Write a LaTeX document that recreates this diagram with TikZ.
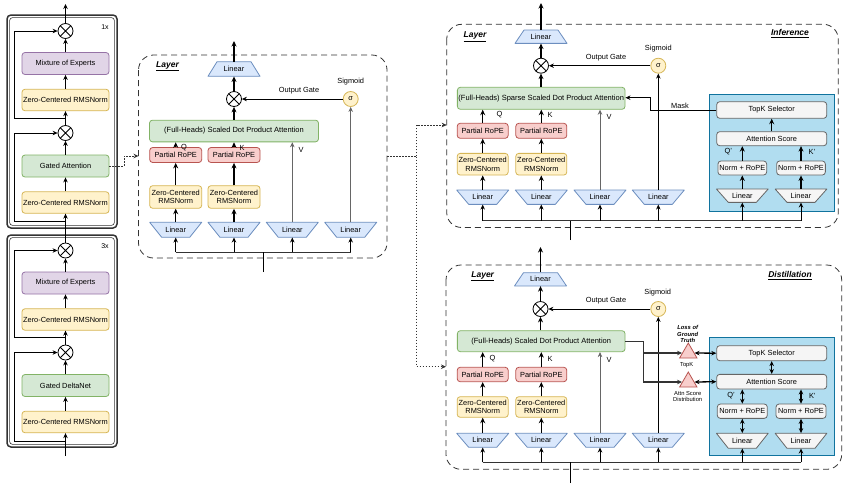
\documentclass[tikz,border=0pt]{standalone}
\usepackage{fontspec}
\setmainfont{Liberation Sans}
\usetikzlibrary{arrows.meta,shapes.geometric,calc}
\definecolor{yfill}{HTML}{FFF2CC}\definecolor{ydraw}{HTML}{D6B656}
\definecolor{gfill}{HTML}{D5E8D4}\definecolor{gdraw}{HTML}{82B366}
\definecolor{rfill}{HTML}{F8CECC}\definecolor{rdraw}{HTML}{B85450}
\definecolor{pfill}{HTML}{E1D5E7}\definecolor{pdraw}{HTML}{9673A6}
\definecolor{bfill}{HTML}{DAE8FC}\definecolor{bdraw}{HTML}{6C8EBF}
\definecolor{qfill}{HTML}{F5F5F5}\definecolor{qdraw}{HTML}{666666}
\definecolor{cfill}{HTML}{B1DDF0}\definecolor{cdraw}{HTML}{10739E}
\definecolor{dk}{HTML}{333333}
\definecolor{gl}{HTML}{666666}
\newcommand{\trapnode}[7]{%
  \draw[#7, shift={(#2,#3)}] (-#4/2,-#6/2) -- (#4/2,-#6/2) -- (#5/2,#6/2) -- (-#5/2,#6/2) -- cycle;
  \node[txt, minimum width=#4pt, minimum height=#6pt, inner sep=0pt] (#1) at (#2,#3) {Linear};
}
\tikzset{
 txt/.style={font=\fontsize{7.4}{8.6}\selectfont, align=center, text=black},
 box/.style={txt, draw, rounded corners=3pt, line width=0.8pt, inner sep=0pt},
 ybox/.style={box, fill=yfill, draw=ydraw},
 gbox/.style={box, fill=gfill, draw=gdraw},
 sdpa/.style={gbox, font=\fontsize{7.5}{9}\selectfont},
 rbox/.style={box, fill=rfill, draw=rdraw},
 pbox/.style={box, fill=pfill, draw=pdraw},
 qbox/.style={box, fill=qfill, draw=qdraw},
 lincol/.style={fill=bfill, draw=bdraw, line width=0.8pt, line join=round},
 lingray/.style={fill=qfill, draw=qdraw, line width=0.8pt, line join=round},
 otimes/.style={circle, draw, line width=0.8pt, minimum size=15pt, inner sep=0pt, fill=white,
   path picture={\draw[line width=0.8pt] (path picture bounding box.north west) -- (path picture bounding box.south east) (path picture bounding box.south west) -- (path picture bounding box.north east);}},
 sigm/.style={txt, circle, draw=ydraw, fill=yfill, line width=0.8pt, minimum size=15pt, inner sep=0pt},
 panel/.style={draw=dk, line width=0.8pt, dash pattern=on 6pt off 4pt, rounded corners=15pt},
 blko/.style={draw=dk, line width=1.5pt, rounded corners=4pt},
 blki/.style={draw=dk, line width=0.6pt, rounded corners=3pt},
 arr/.style={-{Stealth[length=5pt,width=4.5pt]}, line width=0.8pt},
 tarr/.style={-{Stealth[length=5.5pt,width=5pt]}, line width=1.4pt},
 darr/.style={{Stealth[length=5pt,width=4.5pt]}-{Stealth[length=5pt,width=4.5pt]}, line width=1.3pt},
 garr/.style={arr, draw=gl},
 bus/.style={line width=0.8pt, draw=dk},
 tbus/.style={line width=1.3pt},
 dotarr/.style={-{Stealth[length=5pt,width=4.5pt]}, line width=1pt, draw=dk, dash pattern=on 1.5pt off 1.5pt},
 ttl/.style={font=\fontsize{8.5}{10}\selectfont\bfseries\itshape},
 lbl/.style={txt},
 small/.style={font=\fontsize{5.8}{6.8}\selectfont, align=center},
 smallb/.style={font=\fontsize{5.8}{6.8}\selectfont\bfseries\itshape, align=center},
 tri/.style={regular polygon, regular polygon sides=3, minimum size=20pt, inner sep=0pt, fill=rfill, draw=rdraw, line width=0.8pt},
}
\begin{document}
\begin{tikzpicture}[x=1pt,y=-1pt]
\fill[white] (0,0) rectangle (848,491);
\useasboundingbox (0,0) rectangle (848,491);

% ================= left column =================
\draw[blko] (7,15) rectangle (117,228);
\draw[blki] (9.6,17.6) rectangle (114.4,225.4);
\draw[blko] (7,235) rectangle (117,447);
\draw[blki] (9.6,237.6) rectangle (114.4,444.4);
\node[txt, font=\fontsize{7}{8}\selectfont] (one) at (105,27) {1x};
\node[txt, font=\fontsize{7}{8}\selectfont] (three) at (105,246) {3x};

\node[otimes] (x1a) at (65.5,31) {};
\node[pbox, minimum width=87pt, minimum height=22pt] (moe1) at (65.5,63.5) {Mixture of Experts};
\node[ybox, minimum width=87pt, minimum height=21.5pt] (nA1) at (65.5,100) {Zero-Centered RMSNorm};
\node[otimes] (x1b) at (65.5,133) {};
\node[gbox, minimum width=87pt, minimum height=22pt] (ga) at (65.5,166) {Gated Attention};
\node[ybox, minimum width=87pt, minimum height=21.5pt] (nB1) at (65.5,202.5) {Zero-Centered RMSNorm};

\node[otimes] (x2a) at (65.5,250.5) {};
\node[pbox, minimum width=87pt, minimum height=22pt] (moe2) at (65.5,283) {Mixture of Experts};
\node[ybox, minimum width=87pt, minimum height=21.5pt] (nA2) at (65.5,319.5) {Zero-Centered RMSNorm};
\node[otimes] (x2b) at (65.5,352.5) {};
\node[gbox, minimum width=87pt, minimum height=22pt] (gdn) at (65.5,385.5) {Gated DeltaNet};
\node[ybox, minimum width=87pt, minimum height=21.5pt] (nB2) at (65.5,422) {Zero-Centered RMSNorm};

\coordinate (topL) at (65.5,4);
\coordinate (botL) at (65.5,456);
\coordinate (r1) at (65.5,118);
\coordinate (r2) at (65.5,221);
\coordinate (r3) at (65.5,337.5);
\coordinate (r4) at (65.5,441);
\coordinate (rl) at (14,0);

\draw[arr] (x1a.north) -- (topL);
\draw[arr] (moe1.north) -- (x1a.south);
\draw[arr] (nA1.north) -- (moe1.south);
\draw[arr] (x1b.north) -- (nA1.south);
\draw[arr] (ga.north) -- (x1b.south);
\draw[arr] (nB1.north) -- (ga.south);
\draw[arr] (x2a.north) -- (nB1.south);
\draw[arr] (moe2.north) -- (x2a.south);
\draw[arr] (nA2.north) -- (moe2.south);
\draw[arr] (x2b.north) -- (nA2.south);
\draw[arr] (gdn.north) -- (x2b.south);
\draw[arr] (nB2.north) -- (gdn.south);
\draw[arr] (botL) -- (nB2.south);
\draw[arr] (r1) -- (rl |- r1) |- (x1a.west);
\draw[arr] (r2) -- (rl |- r2) |- (x1b.west);
\draw[arr] (r3) -- (rl |- r3) |- (x2a.west);
\draw[arr] (r4) -- (rl |- r4) |- (x2b.west);

\coordinate (gd1) at (124,0);
\coordinate (lyin) at (138.5,156);
\draw[dotarr] (ga.east) -- (gd1 |- ga.east) |- (lyin);

% ================= middle Layer panel =================
\draw[panel] (138.5,55) rectangle (387,258);
\node[ttl] (tl1) at (167.5,66) {\underline{Layer}};
\trapnode{mLo}{234}{69}{34}{52}{14.5}{lincol}
\coordinate (mTop) at (234,41);
\node[otimes] (mX) at (234,99) {};
\node[sigm] (mS) at (350.7,99) {σ};
\node[lbl] (mSl) at (350.7,82) {Sigmoid};
\node[lbl] (mOg) at (299,91) {Output Gate};
\node[sdpa, minimum width=169pt, minimum height=21.7pt] (mA) at (234,131) {(Full-Heads) Scaled Dot Product Attention};
\node[rbox, minimum width=52pt, minimum height=15pt] (mRq) at (175.7,155) {Partial RoPE};
\node[rbox, minimum width=52pt, minimum height=15pt] (mRk) at (234,155) {Partial RoPE};
\node[ybox, minimum width=52pt, minimum height=22.6pt] (mNq) at (175.7,197) {Zero-Centered\\RMSNorm};
\node[ybox, minimum width=52pt, minimum height=22.6pt] (mNk) at (234,197) {Zero-Centered\\RMSNorm};
\trapnode{mLq}{175.7}{229.8}{52}{28}{15}{lincol}
\trapnode{mLk}{234}{229.8}{52}{28}{15}{lincol}
\trapnode{mLv}{292.3}{229.8}{52}{28}{15}{lincol}
\trapnode{mLs}{350.7}{229.8}{52}{28}{15}{lincol}
\node[lbl, anchor=west] (mQ) at (177.5,148) {Q};
\node[lbl, anchor=west] (mK) at (236,148) {K};
\node[lbl, anchor=west] (mV) at (295,150) {V};

\draw[tarr] (mLo.north) -- (mTop);
\draw[tarr] (mX.north) -- (mLo.south);
\draw[tarr] (mX.south |- mA.north) -- (mX.south);
\draw[arr] (mS.west) -- (mX.east);
\draw[tarr] (mRq.north) -- (mRq.north |- mA.south);
\draw[tarr] (mRk.north) -- (mRk.north |- mA.south);
\draw[tarr] (mNq.north) -- (mRq.south);
\draw[tarr] (mNk.north) -- (mRk.south);
\draw[tarr] (mLq.north) -- (mNq.south);
\draw[tarr] (mLk.north) -- (mNk.south);
\draw[garr] (mLv.north) -- (mLv.north |- mA.south);
\draw[garr] (mLs.north) -- (mS.south);
\coordinate (mBus) at (0,252.3);
\coordinate (mTr) at (263.3,272);
\draw[bus] (mLq.south |- mBus) -- (mLs.south |- mBus);
\draw[tbus] (mTr) -- (mTr |- mBus);
\foreach \n in {mLq,mLk,mLv,mLs} { \draw[arr] (\n.south |- mBus) -- (\n.south); }

\coordinate (mOut) at (387,156.7);
\coordinate (dv) at (416.7,0);
\coordinate (iIn) at (446.7,125);
\coordinate (dIn) at (446,366.7);
\draw[dotarr] (mOut) -- (dv |- mOut) |- (iIn);
\draw[dotarr] (dv |- mOut) |- (dIn);

% ================= Inference panel =================
\draw[panel] (446.7,24.3) rectangle (838.3,227.5);
\node[ttl] (tl2) at (475,36.7) {\underline{Layer}};
\node[ttl] (tInf) at (790,33.3) {\underline{Inference}};
\trapnode{iLo}{541}{36.7}{34}{52}{13.3}{lincol}
\coordinate (iTop) at (541,3);
\node[otimes] (iX) at (541,65.7) {};
\node[sigm] (iS) at (658.3,65.7) {σ};
\node[lbl] (iSl) at (658.3,48.3) {Sigmoid};
\node[lbl] (iOg) at (606,57.7) {Output Gate};
\node[sdpa, minimum width=167.7pt, minimum height=22pt] (iA) at (541.2,98.3) {(Full-Heads) Sparse Scaled Dot Product Attention};
\node[rbox, minimum width=51pt, minimum height=15pt] (iRq) at (482.7,130.8) {Partial RoPE};
\node[rbox, minimum width=51pt, minimum height=15pt] (iRk) at (541.3,130.8) {Partial RoPE};
\node[ybox, minimum width=51pt, minimum height=21.7pt] (iNq) at (482.7,164.2) {Zero-Centered\\RMSNorm};
\node[ybox, minimum width=51pt, minimum height=21.7pt] (iNk) at (541.3,164.2) {Zero-Centered\\RMSNorm};
\trapnode{iLq}{482.7}{197.2}{52}{28}{14.3}{lincol}
\trapnode{iLk}{541.3}{197.2}{52}{28}{14.3}{lincol}
\trapnode{iLv}{600}{197.2}{52}{28}{14.3}{lincol}
\trapnode{iLs}{658.3}{197.2}{52}{28}{14.3}{lincol}
\node[lbl, anchor=west] (iQ) at (493,115) {Q};
\node[lbl, anchor=west] (iK) at (544,115) {K};
\node[lbl, anchor=west] (iV) at (603,116.7) {V};

\node[draw=cdraw, fill=cfill, line width=0.8pt, minimum width=124.7pt, minimum height=117.4pt, inner sep=0pt] (iBx) at (771.7,153) {};
\node[qbox, minimum width=110pt, minimum height=16.6pt] (iTk) at (771.7,110) {TopK Selector};
\node[qbox, minimum width=110pt, minimum height=14pt] (iAs) at (771.7,138.7) {Attention Score};
\node[qbox, minimum width=48.7pt, minimum height=14pt] (iN1) at (742.3,168) {Norm + RoPE};
\node[qbox, minimum width=48.7pt, minimum height=14pt] (iN2) at (801,168) {Norm + RoPE};
\trapnode{iG1}{742.3}{195.7}{51.7}{28}{13.3}{lingray}
\trapnode{iG2}{801}{195.7}{51.7}{28}{13.3}{lingray}
\node[lbl] (iQp) at (728.3,151.7) {Q'};
\node[lbl] (iKp) at (812,151.7) {K'};
\node[lbl] (iMask) at (680,105.7) {Mask};

\draw[tarr] (iLo.north) -- (iTop);
\draw[tarr] (iX.north) -- (iLo.south);
\draw[tarr] (iX.south |- iA.north) -- (iX.south);
\draw[arr] (iS.west) -- (iX.east);
\draw[tarr] (iRq.north) -- (iRq.north |- iA.south);
\draw[tarr] (iRk.north) -- (iRk.north |- iA.south);
\draw[tarr] (iNq.north) -- (iRq.south);
\draw[tarr] (iNk.north) -- (iRk.south);
\draw[tarr] (iLq.north) -- (iNq.south);
\draw[tarr] (iLk.north) -- (iNk.south);
\draw[garr] (iLv.north) -- (iLv.north |- iA.south);
\draw[arr] (iLs.north) -- (iS.south);
\draw[tarr] (iAs.north) -- (iTk.south);
\draw[tarr] (iN1.north) -- (iN1.north |- iAs.south);
\draw[tarr] (iN2.north) -- (iN2.north |- iAs.south);
\draw[tarr] (iG1.north) -- (iN1.south);
\draw[tarr] (iG2.north) -- (iN2.south);
\coordinate (iMk) at (650.7,97.7);
\draw[arr] (iTk.west) -| (iMk) -- (iMk -| iA.east);
\coordinate (iBus) at (0,220.5);
\coordinate (iTr) at (570.7,240);
\draw[bus] (iLq.south |- iBus) -- (iG2.south |- iBus);
\draw[tbus] (iTr) -- (iTr |- iBus);
\foreach \n in {iLq,iLk,iLv,iLs,iG1,iG2} { \draw[arr] (\n.south |- iBus) -- (\n.south); }

% ================= Distillation panel =================
\draw[panel] (446,265) rectangle (841.7,469.3);
\node[ttl] (tl3) at (482.7,276) {\underline{Layer}};
\node[ttl] (tDis) at (790,275.7) {\underline{Distillation}};
\trapnode{dLo}{540.5}{279.3}{34}{52}{13.3}{lincol}
\coordinate (dTop) at (540.5,247);
\node[otimes] (dX) at (540.5,309) {};
\node[sigm] (dS) at (658.3,309) {σ};
\node[lbl] (dSl) at (657.7,292.3) {Sigmoid};
\node[lbl] (dOg) at (606,301) {Output Gate};
\node[sdpa, minimum width=167.7pt, minimum height=21pt] (dA) at (541.2,341.2) {(Full-Heads) Scaled Dot Product Attention};
\node[rbox, minimum width=51pt, minimum height=14.4pt] (dRq) at (482.7,374.5) {Partial RoPE};
\node[rbox, minimum width=51pt, minimum height=14.4pt] (dRk) at (541.3,374.5) {Partial RoPE};
\node[ybox, minimum width=51pt, minimum height=20.6pt] (dNq) at (482.7,407) {Zero-Centered\\RMSNorm};
\node[ybox, minimum width=51pt, minimum height=20.6pt] (dNk) at (541.3,407) {Zero-Centered\\RMSNorm};
\trapnode{dLq}{482.7}{440.3}{52}{28}{14}{lincol}
\trapnode{dLk}{541.3}{440.3}{52}{28}{14}{lincol}
\trapnode{dLv}{600}{440.3}{52}{28}{14}{lincol}
\trapnode{dLs}{658.3}{440.3}{52}{28}{14}{lincol}
\node[lbl, anchor=west] (dQ) at (486,359) {Q};
\node[lbl, anchor=west] (dK) at (544,359) {K};
\node[lbl, anchor=west] (dV) at (603,360) {V};

\node[draw=cdraw, fill=cfill, line width=0.8pt, minimum width=124.7pt, minimum height=117.3pt, inner sep=0pt] (dBx) at (771.7,396.4) {};
\node[qbox, minimum width=110pt, minimum height=15pt] (dTk) at (771.7,353.2) {TopK Selector};
\node[qbox, minimum width=110pt, minimum height=14.7pt] (dAs) at (771.7,381.7) {Attention Score};
\node[qbox, minimum width=50pt, minimum height=14.3pt] (dN1) at (742.3,411.2) {Norm + RoPE};
\node[qbox, minimum width=50pt, minimum height=14.3pt] (dN2) at (801,411.2) {Norm + RoPE};
\trapnode{dG1}{742.3}{440.8}{51.7}{28}{15}{lingray}
\trapnode{dG2}{801}{440.8}{51.7}{28}{15}{lingray}
\node[lbl] (dQp) at (731,396) {Q'};
\node[lbl] (dKp) at (812.3,396) {K'};

\node[tri] (tri1) at (688.3,353) {};
\node[tri] (tri2) at (688.3,382) {};
\node[smallb] (lossl) at (687.7,334) {Loss of\\Ground\\Truth};
\node[small] (tkl) at (686.7,364.8) {TopK};
\node[small] (asl) at (687.7,396.5) {Attn Score\\Distribution};

\draw[tarr] (dLo.north) -- (dTop);
\draw[tarr] (dX.north) -- (dLo.south);
\draw[tarr] (dX.south |- dA.north) -- (dX.south);
\draw[arr] (dS.west) -- (dX.east);
\draw[tarr] (dRq.north) -- (dRq.north |- dA.south);
\draw[tarr] (dRk.north) -- (dRk.north |- dA.south);
\draw[tarr] (dNq.north) -- (dRq.south);
\draw[tarr] (dNk.north) -- (dRk.south);
\draw[tarr] (dLq.north) -- (dNq.south);
\draw[tarr] (dLk.north) -- (dNk.south);
\draw[garr] (dLv.north) -- (dLv.north |- dA.south);
\draw[arr] (dLs.north) -- (dS.south);
\draw[darr] (dAs.north) -- (dTk.south);
\draw[darr] (dN1.north) -- (dN1.north |- dAs.south);
\draw[darr] (dN2.north) -- (dN2.north |- dAs.south);
\draw[darr] (dG1.north) -- (dN1.south);
\draw[darr] (dG2.north) -- (dN2.south);
\coordinate (dJ) at (643.3,0);
\draw[arr, line width=1.1pt, draw=dk] (dA.east) -| (dJ |- tri2.west) -- (tri2.west);
\draw[arr, line width=1.1pt, draw=dk] (dJ |- tri1.west) -- (tri1.west);
\draw[darr] (tri1.east) -- (dTk.west);
\draw[darr] (tri2.east) -- (dAs.west);
\coordinate (dBus) at (0,462.3);
\coordinate (dTr) at (570.7,483);
\draw[bus] (dLq.south |- dBus) -- (dG2.south |- dBus);
\draw[tbus] (dTr) -- (dTr |- dBus);
\foreach \n in {dLq,dLk,dLv,dLs,dG1,dG2} { \draw[arr] (\n.south |- dBus) -- (\n.south); }
\end{tikzpicture}
\end{document}
